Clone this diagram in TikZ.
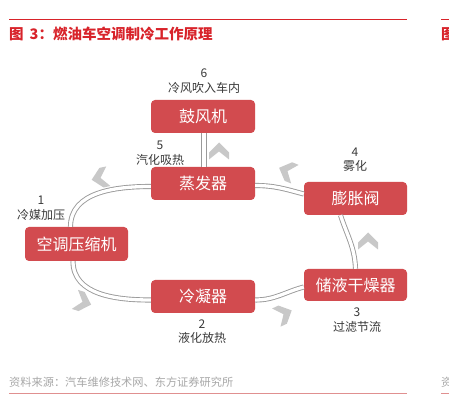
\documentclass[tikz,border=0pt]{standalone}
\usepackage{fontspec}
\setmainfont{Noto Sans CJK SC}
\newfontfamily\cjk{Noto Sans CJK SC}
\usetikzlibrary{calc}
\definecolor{boxred}{HTML}{D24B4F}
\definecolor{titlered}{HTML}{D8232A}
\definecolor{linepink}{HTML}{E09090}
\definecolor{srcgray}{HTML}{A8A8A8}
\definecolor{labgray}{HTML}{3A3A3A}
\definecolor{chevgray}{HTML}{C8C8C8}
\definecolor{pipegray}{HTML}{9A9A9A}
\tikzset{
  box/.style={rectangle, rounded corners=4pt, fill=boxred, text=white,
    minimum width=104pt, minimum height=33pt, inner sep=0pt,
    font=\cjk\fontsize{16}{18}\selectfont},
  lab/.style={text=labgray, align=center, inner sep=0pt,
    font=\cjk\fontsize{12}{14.5}\selectfont},
  pipe/.style={draw=pipegray, line width=0.9pt, double=white, double distance=3.3pt},
  chev/.pic={\fill[chevgray] (0,8.5) -- (10,-1.5) -- (10,-8.5) -- (0,-0.5) -- (-10,-8.5) -- (-10,-1.5) -- cycle;}
}
\begin{document}
\begin{tikzpicture}[x=1pt,y=1pt]
\useasboundingbox[fill=white] (0,0) rectangle (449,412);
% header and footer
\draw[titlered, line width=1pt] (9,392) -- (407,392);
\draw[titlered, line width=1pt] (441,392) -- (449,392);
\node[anchor=west, inner sep=0pt, text=titlered, font=\cjk\bfseries\fontsize{14.5}{16}\selectfont] (title) at (9,378) {图\hspace{6pt}3：燃油车空调制冷工作原理};
\node[anchor=west, inner sep=0pt, text=titlered, font=\cjk\bfseries\fontsize{14.5}{16}\selectfont] (title2) at (441,378) {图};
\draw[linepink, line width=1pt] (9,19) -- (407,19);
\draw[linepink, line width=1pt] (441,19) -- (449,19);
\node[anchor=west, inner sep=0pt, text=srcgray, font=\cjk\fontsize{11.2}{13}\selectfont] (src) at (9,30) {资料来源：汽车维修技术网、东方证券研究所};
\node[anchor=west, inner sep=0pt, text=srcgray, font=\cjk\fontsize{11.2}{13}\selectfont] (src2) at (441,30) {资};
% boxes
\node[box] (blower) at (203,295.5) {鼓风机};
\node[box] (evap) at (203,228.5) {蒸发器};
\node[box, minimum width=103pt] (exp) at (355.5,213.5) {膨胀阀};
\node[box, minimum width=103pt, minimum height=34pt] (comp) at (76.5,168) {空调压缩机};
\node[box] (cond) at (203,115.5) {冷凝器};
\node[box, minimum width=103pt, minimum height=32pt] (drier) at (355.5,127) {储液干燥器};
% pipes
\draw[pipe] ([xshift=1pt]blower.south) -- ([xshift=1pt]evap.north);
\draw[pipe] ([yshift=-3pt]evap.west) to[out=180,in=90] ([xshift=-6pt]comp.north);
\draw[pipe] ([xshift=-3.5pt]comp.south) to[out=-90,in=180] ([yshift=-3.5pt]cond.west);
\draw[pipe] ([yshift=-3.5pt]cond.east) to[out=0,in=195] ([yshift=-2pt]drier.west);
\draw[pipe] (drier.north) to[out=92,in=-72] ([xshift=-15pt]exp.south);
\draw[pipe] ([yshift=4.5pt]exp.west) to[out=165,in=0] ([yshift=-2pt]evap.east);
% labels
\node[lab] (l6) at (204,331) {6\\冷风吹入车内};
\node[lab] (l5) at (160,259) {5\\汽化吸热};
\node[lab] (l1) at (41,204) {1\\冷媒加压};
\node[lab] (l2) at (202,80.5) {2\\液化放热};
\node[lab] (l3) at (357,92) {3\\过滤节流};
\node[lab] (l4) at (355,252.5) {4\\雾化};
% flow chevrons
\pic at (219,261) {chev};
\pic[rotate=102] at (100,234) {chev};
\pic[rotate=-108] at (83,110) {chev};
\pic[rotate=-65] at (284,98) {chev};
\pic at (368,171) {chev};
\pic[rotate=68] at (287,241) {chev};
\end{tikzpicture}
\end{document}
